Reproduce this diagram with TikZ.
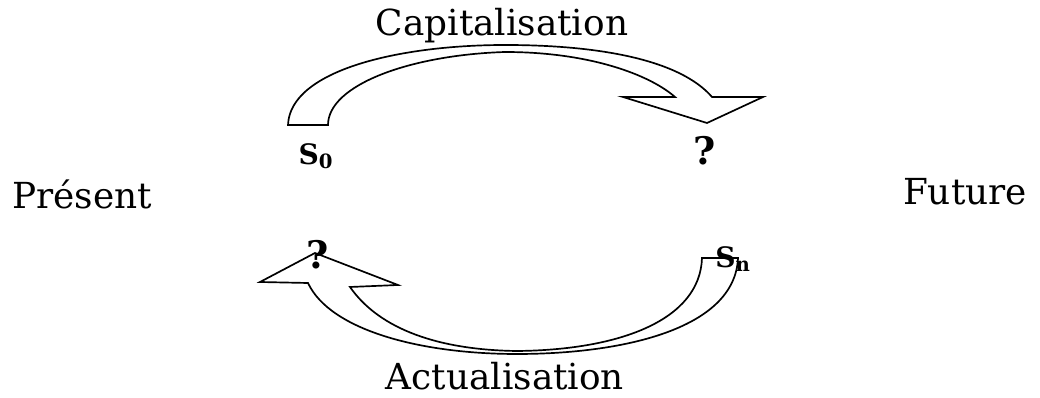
\documentclass[tikz,border=0pt]{standalone}
\usepackage{fontspec}
\setmainfont{DejaVu Serif}
\usepackage{tikz}
\usetikzlibrary{positioning,calc}
\tikzset{
  period/.style={font=\fontsize{25.5}{30}\selectfont,inner sep=0pt},
  flow/.style={font=\fontsize{25.5}{30}\selectfont,inner sep=0pt},
  amount/.style={font=\fontsize{20}{24}\selectfont\bfseries,inner sep=0pt},
  unknown/.style={font=\fontsize{27}{30}\selectfont\bfseries,inner sep=0pt},
  band/.style={draw=black,fill=white,line width=1.2pt,line join=miter}
}

\begin{document}
\begin{tikzpicture}[x=0.025cm,y=-0.025cm]
  \useasboundingbox (0,0) rectangle (1040,398);
  \draw[band] (288,125) -- (328,125)
    .. controls (328,85) and (410,55) .. (505,52)
    .. controls (590,52) and (650,75) .. (675,97)
    -- (623,97) -- (707,123) -- (763,97) -- (712,97)
    .. controls (680,60) and (600,45) .. (505,45)
    .. controls (400,45) and (290,70) .. (288,125) -- cycle;
  \draw[band] (702,258) -- (738,258)
    .. controls (735,330) and (620,354) .. (517,354)
    .. controls (420,354) and (330,330) .. (308,283)
    -- (260,282) -- (315,253) -- (398,285) -- (350,287)
    .. controls (380,330) and (440,350) .. (517,351)
    .. controls (620,350) and (700,320) .. (702,258) -- cycle;
  \node[flow] (capit) at (502,26) {Capitalisation};
  \node[flow] (actual) at (505,376) {Actualisation};
  \node[period] (present) at (82,194) {Présent};
  \node[period] (future) at (965,192) {Future};
  \node[amount] (szero) at (316,156) {S$_\mathbf{0}$};
  \node[unknown] (qfut) at (705,151) {?};
  \node[unknown] (qpres) at (318,255) {?};
  \node[amount] (sn) at (733,259) {S$_\mathbf{n}$};
\end{tikzpicture}
\end{document}
